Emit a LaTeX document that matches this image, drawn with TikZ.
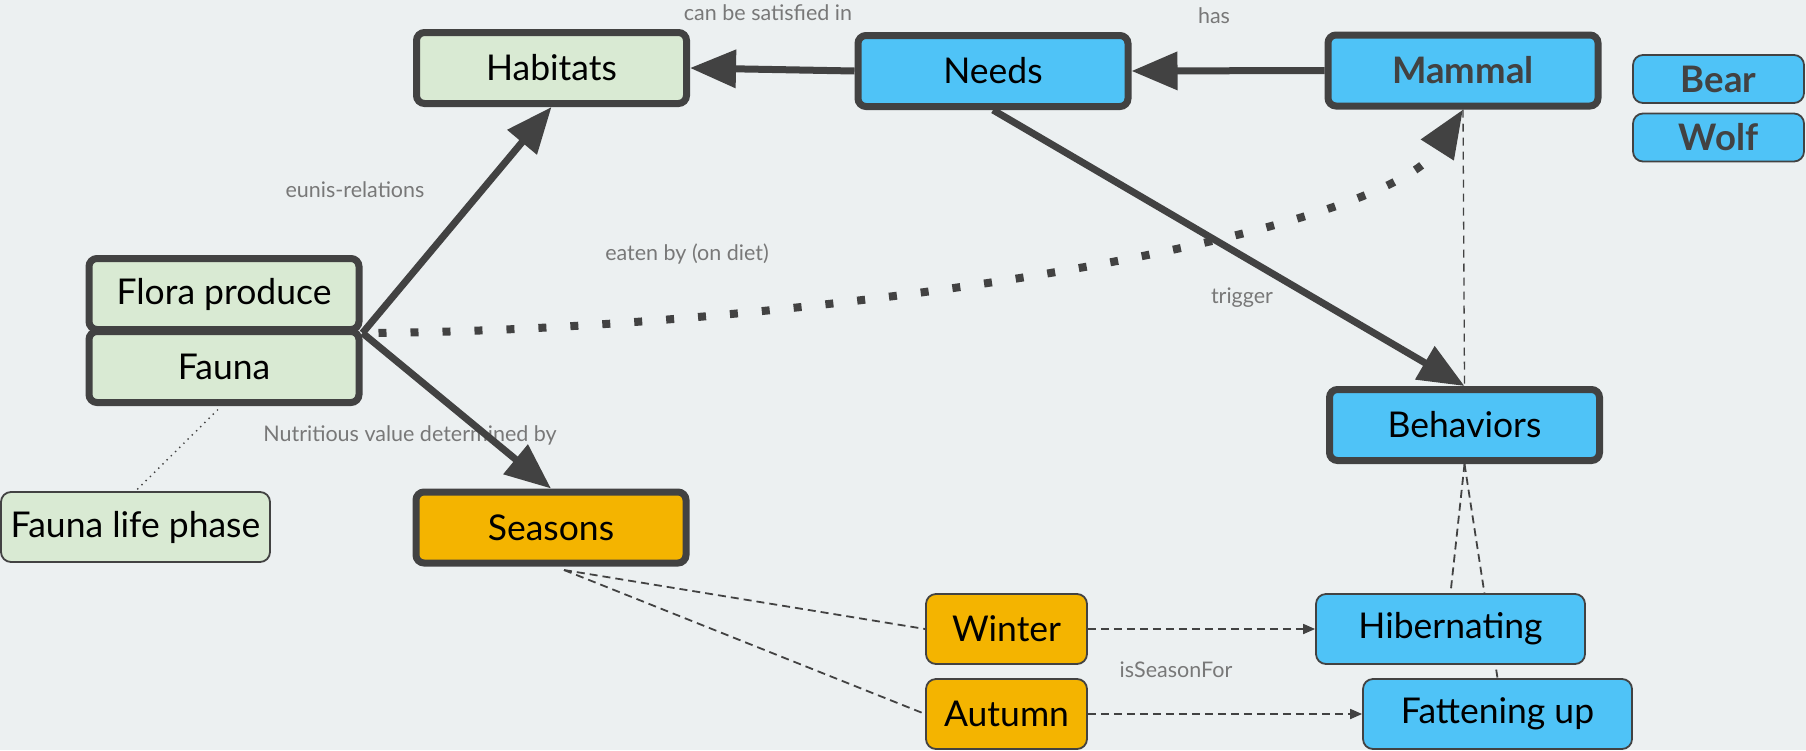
\documentclass[tikz,border=0pt]{standalone}
\usepackage{fontspec}
\setmainfont{Lato}
\usetikzlibrary{arrows.meta,calc}
\definecolor{canvas}{HTML}{ECF0F1}
\definecolor{ink}{HTML}{424242}
\definecolor{leaf}{HTML}{D9EAD3}
\definecolor{sky}{HTML}{4FC3F7}
\definecolor{amber}{HTML}{F4B400}
\definecolor{note}{HTML}{787878}
\pgfdeclarelayer{back}
\pgfdeclarelayer{wires}
\pgfsetlayers{back,wires,main}
\begin{document}
\begin{tikzpicture}[x=1pt,y=-1pt,
  box/.style={rectangle, draw=ink, inner sep=0pt, text=black,
    font=\fontsize{35.5}{42}\selectfont},
  major/.style={box, line width=7pt, rounded corners=8pt,
    minimum width=270pt, minimum height=71pt},
  minor/.style={box, line width=1.8pt, rounded corners=10pt,
    minimum height=70pt},
  strong/.style={text=ink, font=\fontsize{36.5}{42}\selectfont\bfseries},
  lbl/.style={text=note, inner sep=0pt, font=\fontsize{21.5}{25}\selectfont},
  heavy/.style={draw=ink, line width=7pt,
    -{Triangle[length=46pt,width=37pt]}},
  diet/.style={draw=ink, line width=8pt, dash pattern=on 8pt off 24pt,
    dash phase=16pt, -{Triangle[length=48pt,width=37pt]}},
  link/.style={draw=ink, line width=1.8pt, dash pattern=on 8pt off 5pt},
  linkarrow/.style={link, -{Triangle[length=12pt,width=10pt]}},
  faint/.style={draw=ink, line width=1.3pt, dash pattern=on 8pt off 6pt},
  tiny/.style={draw=ink, line width=1.4pt, dash pattern=on 1.4pt off 4.5pt}
]
\begin{pgfonlayer}{back}
  \fill[canvas] (0,0) rectangle (1806,750);
\end{pgfonlayer}
\useasboundingbox (0,0) rectangle (1806,750);

% concept nodes
\node[major, fill=leaf] (habitats) at (551.5,68) {Habitats};
\node[major, fill=sky] (needs) at (993,71) {Needs};
\node[major, fill=sky, strong] (mammal) at (1463,70.5) {Mammal};
\node[major, fill=leaf] (flora) at (224,294) {Flora produce};
\node[major, fill=leaf] (fauna) at (224,367) {Fauna};
\node[major, fill=amber] (seasons) at (551,527.5) {Seasons};
\node[major, fill=sky] (behaviors) at (1464.5,425) {Behaviors};

% instance nodes
\node[minor, fill=sky, strong, minimum width=171pt, minimum height=48pt]
  (bear) at (1718.5,79) {Bear};
\node[minor, fill=sky, strong, minimum width=171pt, minimum height=48pt]
  (wolf) at (1718.5,137.5) {Wolf};
\node[minor, fill=leaf, minimum width=269pt] (phase) at (135.5,527) {Fauna life phase};
\node[minor, fill=amber, minimum width=161pt] (winter) at (1006.5,629) {Winter};
\node[minor, fill=amber, minimum width=161pt] (autumn) at (1006.5,714) {Autumn};
\node[minor, fill=sky, minimum width=269pt] (hibernating) at (1450.5,629) {Hibernating};
\node[minor, fill=sky, minimum width=269pt] (fattening) at (1497.5,714) {Fattening up};

\coordinate (fork) at (flora.south east);
\coordinate (sfoot) at ($(seasons.south)+(13,3.5)$);

\begin{pgfonlayer}{wires}
  % relation labels
  \node[lbl] (l-sat) at (768,13) {can be satisfied in};
  \node[lbl] (l-has) at (1214,16) {has};
  \node[lbl] (l-eunis) at (355,190) {eunis-relations};
  \node[lbl] (l-diet) at (687,254) {eaten by (on diet)};
  \node[lbl] (l-trig) at (1242,298) {trigger};
  \node[lbl] (l-nutri) at (410,435) {Nutritious value determined by};
  \node[lbl] (l-season) at (1176,670) {isSeasonFor};

  % relations
  \draw[heavy] (needs.west) -- (habitats.east);
  \draw[heavy] (mammal.west) -- (needs.east);
  \draw[heavy] (fork) -- (habitats.south);
  \draw[heavy] (fork) -- (seasons.north);
  \draw[heavy] (needs.south) -- (behaviors.north);
  \draw[diet] (fork) .. controls (800,331) and (1380,240) .. (mammal.south);
  \draw[faint] (mammal.south) -- (behaviors.north);
  \draw[tiny] ($(fauna.south)+(-6,3.5)$) -- (phase.north);
  \draw[link] (sfoot) -- (winter.west);
  \draw[link] (sfoot) -- (autumn.west);
  \draw[linkarrow] (winter.east) -- (hibernating.west);
  \draw[linkarrow] (autumn.east) -- (fattening.west);
  \draw[link] (behaviors.south) -- (hibernating.north);
  \draw[link] (behaviors.south) -- (fattening.north);
\end{pgfonlayer}
\end{tikzpicture}
\end{document}
